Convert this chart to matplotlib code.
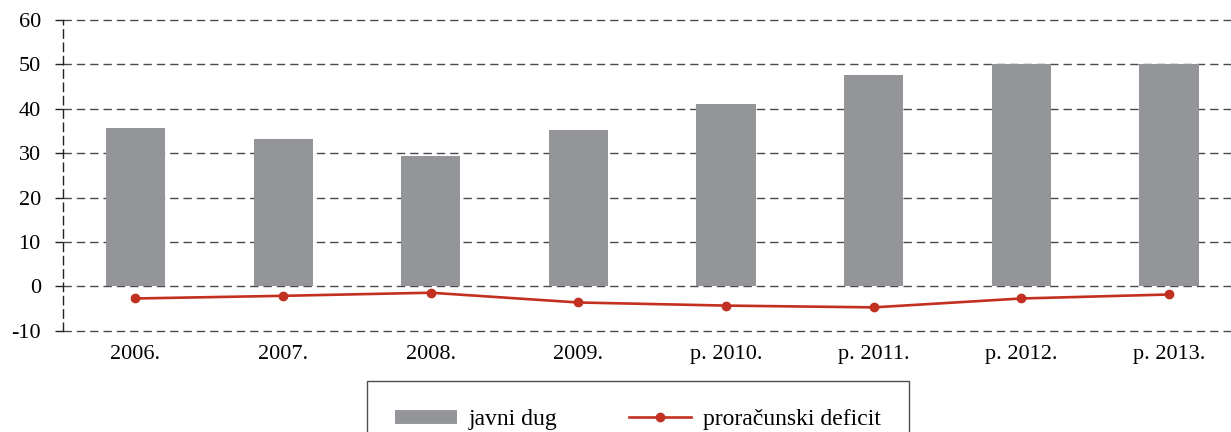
import matplotlib.pyplot as plt
import numpy as np
from matplotlib.lines import Line2D

plt.rcParams['font.family'] = ['Liberation Serif', 'DejaVu Serif']

# Data
years = ['2006.', '2007.', '2008.', '2009.', 'p. 2010.', 'p. 2011.', 'p. 2012.', 'p. 2013.']
javni_dug = [35.6, 33.2, 29.3, 35.2, 41.1, 47.6, 50.1, 50.1]
deficit = [-2.7, -2.1, -1.4, -3.6, -4.3, -4.7, -2.7, -1.8]
y_ticks = [-10, 0, 10, 20, 30, 40, 50, 60]
y_labels = ['-10', '0', '10', '20', '30', '40', '50', '60']

bar_color = '#939598'
line_color = '#c4301f'
grid_color = '#4a4a4a'

fig = plt.figure(figsize=(12.31, 4.32), dpi=100)
ax = fig.add_axes([0.0512, 0.234, 0.9488, 0.7197])

x = np.arange(len(years))
ax.bar(x, javni_dug, width=0.4, color=bar_color, zorder=2)
ax.plot(x, deficit, color=line_color, lw=1.9, marker='o', ms=6, zorder=3)

ax.set_xlim(-0.49, 7.42)
ax.set_ylim(-10, 60)
ax.set_yticks(y_ticks)
ax.set_yticklabels(y_labels, fontsize=16)
ax.set_xticks(x)
ax.set_xticklabels(years, fontsize=16)
ax.tick_params(axis='x', length=0, pad=10)
ax.tick_params(axis='y', length=6, width=1, color='#222222', pad=10)

ax.yaxis.grid(True, linestyle=(0, (6, 3.6)), color=grid_color, lw=1, zorder=0)
for gl in ax.get_ygridlines():
    gl.set_clip_on(False)
ax.set_axisbelow(True)
for s in ['top', 'right', 'bottom']:
    ax.spines[s].set_visible(False)
ax.spines['left'].set_linestyle((0, (6, 3.6)))
ax.spines['left'].set_color('#222222')
ax.spines['left'].set_linewidth(1)

# Legend (bottom edge runs off the figure as in the original)
handles = [Line2D([0], [0], color=bar_color, lw=10, solid_capstyle='butt'),
           Line2D([0], [0], color=line_color, lw=1.9, marker='o', ms=6)]
leg = fig.legend(handles, ['javni dug', 'proračunski deficit'], ncol=2,
                 loc='upper left', bbox_to_anchor=(0.298, 0.119),
                 borderaxespad=0, fontsize=17, frameon=True, fancybox=False,
                 edgecolor='#222222', handlelength=2.63, handletextpad=0.5,
                 borderpad=1.2, columnspacing=3.0)
leg.get_frame().set_linewidth(1)

fig.savefig('out.png', dpi=100)
